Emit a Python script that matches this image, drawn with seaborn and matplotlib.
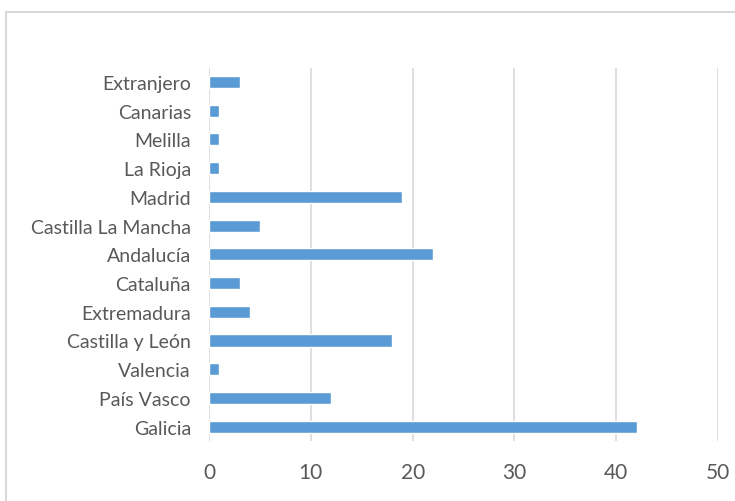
import numpy as np
import pandas as pd
import matplotlib as mpl
from matplotlib import pyplot as plt
from matplotlib.patches import Rectangle
import seaborn as sns

# Data (top to bottom)
regiones = ["Extranjero", "Canarias", "Melilla", "La Rioja", "Madrid",
            "Castilla La Mancha", "Andalucía", "Cataluña", "Extremadura",
            "Castilla y León", "Valencia", "País Vasco", "Galicia"]
valores = [3, 1, 1, 1, 19, 5, 22, 3, 4, 18, 1, 12, 42]
x_ticks = [0, 10, 20, 30, 40, 50]

data = pd.DataFrame({"region": regiones, "n": valores})

sns.set_theme(style="white")
plt.rcParams["font.family"] = ["Lato", "DejaVu Sans"]

fig = plt.figure(figsize=(7.35, 5.02), dpi=100)
ax = fig.add_axes([0.2844, 0.1195, 0.6925, 0.7438])

sns.barplot(data=data, x="n", y="region", order=regiones, color="#5B9BD5",
            saturation=1, width=0.42, ax=ax, zorder=3)

ax.set_xlim(0, 50)
ax.set_xticks(x_ticks)
ax.set_xlabel("")
ax.set_ylabel("")
ax.grid(axis="x", color="#D9D9D9", linewidth=1.2, zorder=0)
ax.grid(axis="y", visible=False)
for s in ax.spines.values():
    s.set_visible(False)
ax.tick_params(axis="both", length=0, colors="#595959")
ax.tick_params(axis="x", labelsize=15, pad=15)
ax.tick_params(axis="y", labelsize=14, pad=13)

# chart frame (cut by the image edge, like the reference)
fig.patches.append(Rectangle((6 / 735, -0.1), 1.0, 1.1 - 13 / 502,
                             transform=fig.transFigure, fill=False,
                             edgecolor="#D9D9D9", linewidth=1.5))

fig.savefig("out.png", dpi=100)
